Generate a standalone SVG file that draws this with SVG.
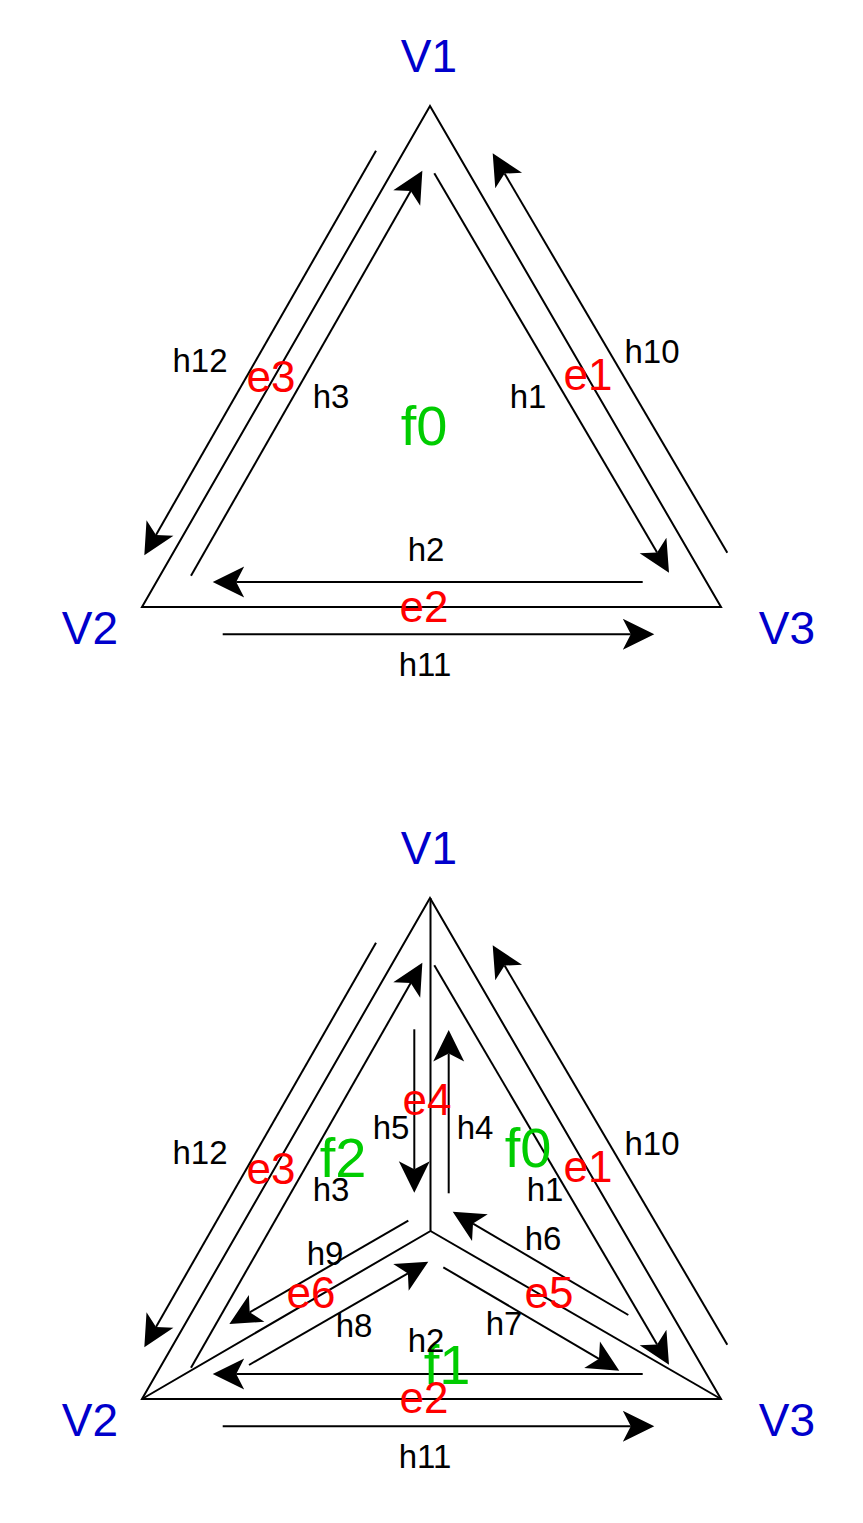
<svg xmlns="http://www.w3.org/2000/svg" width="863" height="1523" viewBox="0 0 863 1523">
<style>
text{font-family:"Liberation Sans",Arial,sans-serif;text-anchor:middle}
.v{fill:#0000CC;font-size:46px}
.e{fill:#FF0000;font-size:44px}
.h{fill:#000000;font-size:33px}
.f{fill:#00CC00;font-size:56px}
.edge{fill:none;stroke:#000;stroke-width:2;stroke-linejoin:miter}
.he{fill:none;stroke:#000;stroke-width:2}
.arr{marker-end:url(#ah)}
</style>
<defs>
<marker id="ah" markerUnits="userSpaceOnUse" markerWidth="40" markerHeight="40" viewBox="-10 -20 40 40" refX="0" refY="0" orient="auto" overflow="visible">
<path d="M23.5,0 L-8,-15.5 L0,0 L-8,15.5 Z" fill="#000"/>
</marker>
</defs>
<rect width="863" height="1523" fill="#fff"/>

<g id="top">
<g id="top-edges">
<polygon class="edge" points="430,106 142,607 721,607"/>
</g>
<g id="top-connectors">
<line class="he arr" x1="376" y1="150.7" x2="156" y2="534.9"/>
<line class="he arr" x1="191" y1="575.7" x2="410.7" y2="191.1"/>
<line class="he arr" x1="727.3" y1="552.7" x2="504.6" y2="173.6"/>
<line class="he arr" x1="434.3" y1="173.3" x2="657.1" y2="552.4"/>
<line class="he arr" x1="642.7" y1="582" x2="236.2" y2="582"/>
<line class="he arr" x1="222.7" y1="634.3" x2="630.8" y2="634.3"/>
</g>
<g id="top-V1"><text class="v" x="429" y="72">V1</text></g>
<g id="top-V2"><text class="v" x="90" y="644">V2</text></g>
<g id="top-V3"><text class="v" x="787" y="644">V3</text></g>
<g id="top-f0"><text class="f" x="424" y="445">f0</text></g>
<g id="top-labels">
<text class="h" x="200" y="372">h12</text>
<text class="e" x="271" y="392">e3</text>
<text class="h" x="331" y="408">h3</text>
<text class="h" x="528" y="408">h1</text>
<text class="e" x="588" y="390">e1</text>
<text class="h" x="652" y="363">h10</text>
<text class="h" x="426" y="561">h2</text>
<text class="e" x="424" y="622">e2</text>
<text class="h" x="425" y="676">h11</text>
</g>
</g>

<g id="bottom">
<g id="bottom-edges">
<polygon class="edge" points="430,898 142,1399 721,1399"/>
<polyline class="edge" points="430.5,898 430.5,1231 142,1399"/>
<line class="edge" x1="430.5" y1="1231" x2="721" y2="1399"/>
</g>
<g id="bottom-connectors">
<line class="he arr" x1="376" y1="942.7" x2="156" y2="1326.9"/>
<line class="he arr" x1="191" y1="1367.7" x2="410.7" y2="983.1"/>
<line class="he arr" x1="727.3" y1="1344.7" x2="504.6" y2="965.6"/>
<line class="he arr" x1="434.3" y1="965.3" x2="657.1" y2="1344.4"/>
<line class="he arr" x1="642.7" y1="1374" x2="236.2" y2="1374"/>
<line class="he arr" x1="222.7" y1="1426.3" x2="630.8" y2="1426.3"/>
<line class="he arr" x1="414.3" y1="1029.3" x2="414.3" y2="1169.2"/>
<line class="he arr" x1="448.7" y1="1193.3" x2="448.7" y2="1053.5"/>
<line class="he arr" x1="628.3" y1="1315" x2="473" y2="1223.6"/>
<line class="he arr" x1="443.3" y1="1267.3" x2="599" y2="1358.8"/>
<line class="he arr" x1="408.3" y1="1220.7" x2="249.7" y2="1312.3"/>
<line class="he arr" x1="249" y1="1365" x2="407.9" y2="1273.4"/>
</g>
<g id="bottom-V1"><text class="v" x="429" y="864">V1</text></g>
<g id="bottom-V2"><text class="v" x="90" y="1436">V2</text></g>
<g id="bottom-V3"><text class="v" x="787" y="1436">V3</text></g>
<g id="bottom-f0"><text class="f" x="528" y="1167">f0</text></g>
<g id="bottom-f1"><text class="f" x="447" y="1384">f1</text></g>
<g id="bottom-f2"><text class="f" x="343" y="1177">f2</text></g>
<g id="bottom-labels">
<text class="h" x="200" y="1164">h12</text>
<text class="e" x="271" y="1184">e3</text>
<text class="h" x="331" y="1201">h3</text>
<text class="h" x="545" y="1201">h1</text>
<text class="e" x="588" y="1182">e1</text>
<text class="h" x="652" y="1155">h10</text>
<text class="e" x="427" y="1115">e4</text>
<text class="h" x="391" y="1139">h5</text>
<text class="h" x="475" y="1139">h4</text>
<text class="h" x="325" y="1265">h9</text>
<text class="e" x="311" y="1308">e6</text>
<text class="h" x="354" y="1337">h8</text>
<text class="h" x="543" y="1250">h6</text>
<text class="e" x="549" y="1308">e5</text>
<text class="h" x="504" y="1335">h7</text>
<text class="h" x="426" y="1352">h2</text>
<text class="e" x="424" y="1413">e2</text>
<text class="h" x="425" y="1468">h11</text>
</g>
</g>
</svg>
